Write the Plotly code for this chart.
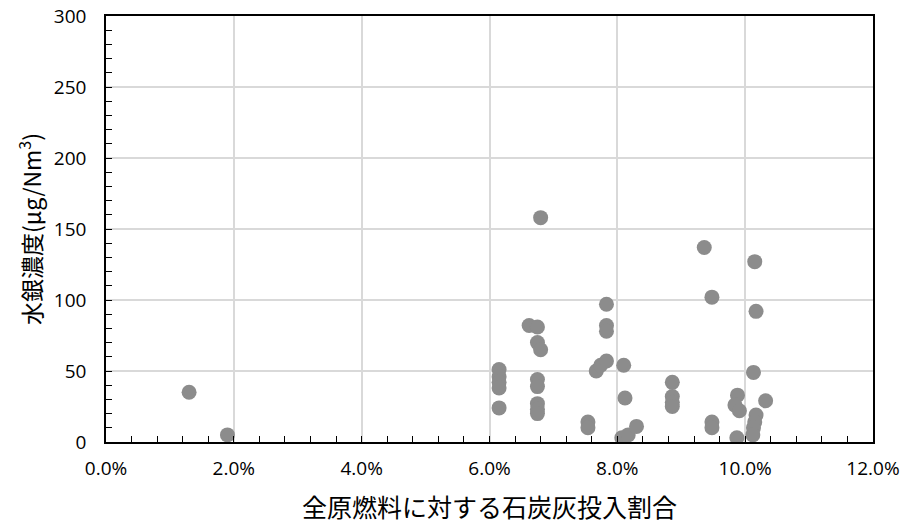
import plotly.graph_objects as go

# 石炭灰投入割合 (fraction) and 水銀濃度 (µg/Nm3)
x_ratio = [
    0.013, 0.019,
    0.0615, 0.0615, 0.0615, 0.0615, 0.0615,
    0.0662, 0.0675, 0.0675, 0.068, 0.068,
    0.0675, 0.0675, 0.0675, 0.0675, 0.0675,
    0.0754, 0.0754,
    0.0767, 0.0774, 0.0783,
    0.0783, 0.0783, 0.0783,
    0.081, 0.0812, 0.0807, 0.0817, 0.083,
    0.0886, 0.0886, 0.0886, 0.0886,
    0.0936, 0.0948, 0.0948, 0.0948,
    0.1015, 0.1017, 0.1013,
    0.0988, 0.0984, 0.0991, 0.1032,
    0.1017, 0.1015, 0.1013, 0.1012, 0.0987,
]
y_hg = [
    35, 5,
    51, 46, 42, 38, 24,
    82, 81, 70, 65, 158,
    44, 39, 27, 23, 20,
    14, 10,
    50, 54, 57,
    97, 82, 78,
    54, 31, 3, 5, 11,
    42, 32, 28, 25,
    137, 102, 14, 10,
    127, 92, 49,
    33, 26, 22, 29,
    19, 14, 10, 5, 3,
]

x_ticks = [0, 0.02, 0.04, 0.06, 0.08, 0.10, 0.12]
y_ticks = [0, 50, 100, 150, 200, 250, 300]

fig = go.Figure(go.Scatter(
    x=x_ratio, y=y_hg, mode="markers",
    marker=dict(size=15, color="#8C8C8C", line=dict(width=0)),
    showlegend=False,
))

tick_font = dict(family="Open Sans", size=19, color="#000000")
cjk = "Noto Sans CJK JP"

fig.update_layout(
    width=907, height=530,
    margin=dict(l=106, r=34, t=16, b=88, autoexpand=False),
    paper_bgcolor="white", plot_bgcolor="white",
    xaxis=dict(
        range=[0, 0.12], tickvals=x_ticks, tickformat=".1%",
        showgrid=True, gridcolor="#D9D9D9", gridwidth=1.5,
        showline=True, linecolor="black", linewidth=1.5, mirror=True,
        ticks="inside", ticklen=6, tickcolor="black",
        minor=dict(dtick=0.004, ticks="inside", ticklen=6, tickcolor="black", showgrid=False),
        tickfont=tick_font, zeroline=False, automargin=False,
        ticklabelstandoff=8,
        title=dict(text="全原燃料に対する石炭灰投入割合", font=dict(family=cjk, size=25, color="black"), standoff=20),
    ),
    yaxis=dict(
        range=[0, 300], tickvals=y_ticks,
        showgrid=True, gridcolor="#D9D9D9", gridwidth=1.5,
        showline=True, linecolor="black", linewidth=1.5, mirror=True,
        ticks="inside", ticklen=6, tickcolor="black",
        minor=dict(dtick=10, ticks="inside", ticklen=6, tickcolor="black", showgrid=False),
        tickfont=tick_font, zeroline=False, automargin=False,
        ticklabelstandoff=14,
        title=dict(text="水銀濃度(μg/Nm<sup>3</sup>)", font=dict(family=cjk, size=23, color="black"), standoff=6),
    ),
)

fig.write_html("out.html", config={"displayModeBar": False},
               post_script="document.body.style.margin='0';")
